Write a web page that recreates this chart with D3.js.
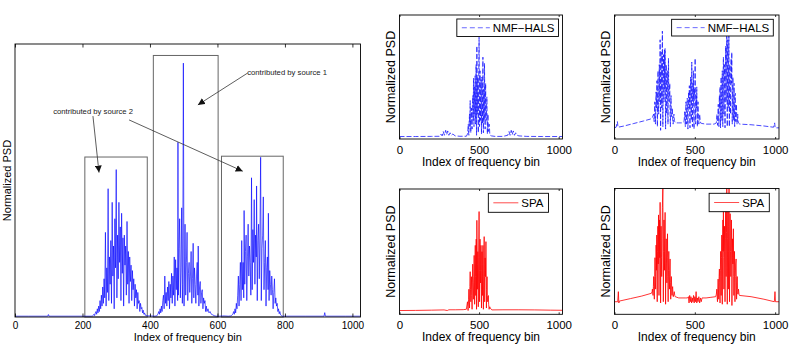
<!DOCTYPE html>
<html>
<head>
<meta charset="utf-8">
<script src="https://cdn.jsdelivr.net/npm/d3@7"></script>
<style>
body { margin: 0; background: #fff; }
text { font-family: "Liberation Sans", Arial, sans-serif; }
</style>
</head>
<body>
<svg id="fig" width="789" height="355"></svg>
<script>
// frequency bins run 0..1024, PSD normalised to the axes height
var binMax = 1024;
var xTicksMain = [0, 200, 400, 600, 800, 1000];
var xTicksSmall = [0, 500, 1000];

// mixture spectrum (left figure)
var mainPsd = [
	[0,0.003],[40,0.003],[97,0.003],[99,0.009],[101,0.003],[160,0.003],[200,0.003],[226,0.003],
	[230,0.004],[232,0.006],[234,0.01],[236,0.005],[238,0.015],[240,0.02],[242,0.01],[244,0.03],
	[246,0.015],[248,0.04],[250,0.02],[252,0.06],[254,0.03],[256,0.08],[258,0.04],[260,0.11],
	[262,0.05],[264,0.14],[266,0.07],[268,0.31],[270,0.04],[272,0.18],[274,0.09],[276,0.47],
	[278,0.06],[280,0.22],[282,0.12],[284,0.28],[286,0.05],[288,0.42],[290,0.15],[292,0.26],
	[294,0.03],[296,0.36],[298,0.18],[300,0.54],[302,0.07],[304,0.3],[306,0.14],[308,0.42],
	[310,0.2],[312,0.33],[314,0.06],[316,0.38],[318,0.16],[320,0.29],[322,0.04],[324,0.3],
	[326,0.19],[328,0.26],[330,0.08],[332,0.35],[334,0.12],[336,0.24],[338,0.05],[340,0.22],
	[342,0.13],[344,0.19],[346,0.06],[348,0.17],[350,0.1],[352,0.14],[354,0.04],[356,0.12],
	[358,0.07],[360,0.1],[362,0.03],[364,0.09],[366,0.05],[368,0.06],[370,0.02],[372,0.05],
	[374,0.03],[376,0.035],[378,0.015],[380,0.025],[382,0.01],[384,0.015],[386,0.006],[388,0.008],
	[390,0.004],[400,0.004],[412,0.003],
	[420,0.004],[422,0.008],[424,0.012],[426,0.02],[428,0.01],[430,0.03],[432,0.015],[434,0.04],
	[436,0.02],[438,0.06],[440,0.08],[442,0.03],[444,0.15],[446,0.05],[448,0.09],[450,0.04],
	[452,0.11],[454,0.06],[456,0.13],[458,0.03],[460,0.12],[462,0.07],[464,0.16],[466,0.05],
	[468,0.15],[470,0.08],[472,0.22],[474,0.04],[476,0.21],[478,0.1],[480,0.18],[482,0.06],
	[483,0.64],[484,0.08],[486,0.25],[488,0.36],[490,0.07],[492,0.18],[494,0.4],[496,0.05],
	[497,0.12],[499,0.93],[501,0.04],[503,0.22],[504,0.34],[506,0.08],[508,0.2],[510,0.31],
	[512,0.06],[514,0.16],[516,0.2],[518,0.09],[520,0.15],[522,0.24],[524,0.05],[526,0.14],
	[528,0.27],[530,0.07],[532,0.18],[534,0.12],[536,0.05],[538,0.15],[540,0.2],[542,0.08],
	[543,0.26],[545,0.04],[547,0.11],[549,0.13],[551,0.05],[553,0.09],[555,0.1],[557,0.03],
	[559,0.07],[561,0.05],[563,0.06],[565,0.02],[567,0.04],[569,0.02],[572,0.03],[575,0.015],
	[578,0.02],[582,0.01],[586,0.008],[590,0.005],[596,0.003],[606,0.003],[620,0.004],[632,0.003],
	[640,0.004],[642,0.006],[644,0.008],[646,0.012],[648,0.02],[650,0.01],[652,0.03],[654,0.015],
	[656,0.05],[658,0.03],[660,0.08],[662,0.15],[664,0.04],[666,0.12],[668,0.2],[670,0.06],
	[672,0.28],[674,0.1],[676,0.2],[678,0.07],[679,0.39],[681,0.12],[683,0.24],[685,0.3],
	[687,0.06],[689,0.22],[691,0.34],[693,0.15],[695,0.26],[697,0.2],[699,0.08],[701,0.51],
	[703,0.1],[705,0.32],[707,0.2],[709,0.43],[711,0.12],[713,0.3],[715,0.22],[716,0.48],
	[718,0.06],[720,0.28],[722,0.34],[724,0.14],[726,0.3],[728,0.585],[730,0.06],[732,0.25],
	[734,0.3],[736,0.44],[738,0.1],[740,0.2],[742,0.28],[744,0.04],[746,0.18],[748,0.22],
	[750,0.1],[751,0.38],[753,0.06],[755,0.17],[757,0.12],[759,0.08],[761,0.15],[763,0.1],
	[765,0.03],[767,0.09],[769,0.14],[771,0.05],[773,0.07],[775,0.04],[777,0.05],[779,0.02],
	[781,0.03],[783,0.012],[785,0.02],[787,0.008],[790,0.005],[792,0.003],
	[800,0.003],[860,0.003],[916,0.003],[918,0.016],[920,0.003],[980,0.003],[1024,0.003]
];

// NMF-HALS, source 1
var halsSource1 = [
	[0,0.02],[100,0.02],[200,0.021],[250,0.022],[260,0.04],[268,0.025],[275,0.06],[282,0.03],
	[290,0.07],[296,0.035],[303,0.065],[310,0.03],[318,0.05],[326,0.03],[335,0.04],[350,0.025],
	[380,0.022],[420,0.022],[427,0.04],[430,0.08],[432,0.12],[434,0.05],[436,0.03],[438,0.15],
	[440,0.2],[442,0.1],[444,0.31],[446,0.12],[448,0.05],[450,0.18],[452,0.25],[454,0.15],
	[456,0.08],[458,0.28],[461,0.35],[463,0.15],[465,0.49],[467,0.22],[468,0.1],[470,0.3],
	[472,0.42],[474,0.2],[475,0.51],[477,0.28],[478,0.12],[480,0.4],[481,0.6],[483,0.2],
	[484,0.03],[486,0.75],[488,0.35],[489,0.2],[491,0.5],[492,0.45],[494,0.25],[495,0.05],
	[497,0.4],[500,0.82],[502,0.3],[503,0.1],[505,0.45],[506,0.55],[508,0.3],[509,0.15],
	[511,0.38],[512,0.48],[514,0.2],[515,0.04],[517,0.35],[518,0.5],[520,0.25],[521,0.12],
	[523,0.4],[524,0.66],[526,0.2],[527,0.05],[529,0.3],[530,0.4],[532,0.15],[534,0.61],
	[536,0.25],[538,0.08],[540,0.3],[541,0.45],[543,0.2],[545,0.15],[547,0.25],[549,0.34],
	[551,0.12],[552,0.04],[554,0.15],[556,0.2],[558,0.06],[560,0.08],[563,0.12],[565,0.1],
	[567,0.04],[570,0.03],[578,0.025],[600,0.021],[650,0.021],[680,0.03],[688,0.06],
	[695,0.03],[702,0.07],[708,0.035],[715,0.065],[722,0.03],[730,0.05],[740,0.03],[750,0.025],
	[800,0.021],[900,0.02],[1024,0.02]
];

// NMF-HALS, source 2
var halsSource2 = [
	[0,0.09],[10,0.095],[18,0.14],[22,0.095],[60,0.105],[120,0.125],[180,0.145],[222,0.16],
	[235,0.17],[243,0.2],[247,0.14],[251,0.3],[253,0.2],[255,0.12],[257,0.3],[259,0.38],
	[262,0.25],[264,0.47],[267,0.1],[269,0.4],[271,0.55],[273,0.3],[275,0.2],[277,0.45],
	[279,0.6],[282,0.3],[284,0.8],[287,0.07],[289,0.5],[291,0.7],[293,0.4],[294,0.25],
	[296,0.55],[298,0.87],[301,0.1],[303,0.5],[305,0.68],[307,0.45],[308,0.3],[310,0.55],
	[311,0.72],[313,0.4],[315,0.73],[318,0.08],[320,0.45],[322,0.6],[324,0.35],[325,0.2],
	[327,0.4],[329,0.55],[331,0.3],[333,0.12],[335,0.45],[336,0.65],[338,0.35],[340,0.3],
	[342,0.38],[344,0.45],[346,0.2],[348,0.1],[350,0.28],[352,0.35],[354,0.2],[356,0.18],
	[358,0.22],[360,0.25],[362,0.16],[365,0.12],[368,0.18],[370,0.2],[373,0.15],[375,0.14],
	[380,0.13],[400,0.13],[420,0.13],[433,0.14],[435,0.18],[437,0.22],[439,0.15],[441,0.1],
	[443,0.22],[445,0.3],[447,0.2],[449,0.12],[451,0.25],[453,0.33],[455,0.18],[457,0.08],
	[460,0.3],[462,0.38],[464,0.25],[466,0.43],[468,0.2],[470,0.09],[472,0.35],[474,0.5],
	[476,0.3],[478,0.15],[480,0.45],[481,0.62],[483,0.3],[485,0.1],[487,0.35],[488,0.45],
	[490,0.3],[491,0.55],[493,0.25],[495,0.08],[497,0.3],[498,0.4],[500,0.35],[502,0.65],
	[504,0.25],[505,0.12],[507,0.3],[509,0.35],[511,0.25],[512,0.42],[514,0.2],[516,0.1],
	[518,0.25],[520,0.3],[523,0.18],[525,0.12],[528,0.17],[530,0.2],[535,0.13],[545,0.125],
	[570,0.12],[595,0.12],[620,0.12],[634,0.13],[636,0.16],[638,0.2],[640,0.14],[642,0.11],
	[644,0.22],[646,0.28],[648,0.18],[650,0.1],[652,0.3],[653,0.35],[655,0.25],[657,0.42],
	[659,0.2],[660,0.09],[662,0.4],[664,0.5],[666,0.3],[668,0.15],[670,0.42],[671,0.55],
	[673,0.3],[674,0.1],[676,0.5],[678,0.66],[680,0.4],[681,0.2],[683,0.45],[685,0.6],
	[687,0.3],[688,0.09],[690,0.55],[692,0.75],[694,0.45],[695,0.3],[697,0.6],[699,0.93],
	[701,0.4],[702,0.1],[704,0.6],[705,0.8],[707,0.45],[708,0.25],[710,0.6],[712,0.85],
	[714,0.3],[715,0.1],[717,0.45],[718,0.6],[720,0.35],[722,0.2],[724,0.5],[726,0.65],
	[728,0.45],[730,0.7],[733,0.12],[735,0.4],[737,0.5],[739,0.3],[741,0.15],[743,0.35],
	[744,0.45],[746,0.25],[748,0.1],[750,0.3],[751,0.37],[753,0.2],[755,0.14],[757,0.22],
	[759,0.28],[761,0.18],[763,0.12],[765,0.17],[767,0.2],[769,0.15],[771,0.13],[780,0.12],
	[850,0.115],[930,0.105],[990,0.095],[997,0.13],[1000,0.09],[1024,0.09]
];

// SPA, source 1
var spaSource1 = [
	[0,0.03],[100,0.031],[200,0.033],[280,0.035],[300,0.03],[310,0.036],[350,0.036],[400,0.037],
	[420,0.04],[427,0.1],[429,0.06],[431,0.03],[434,0.12],[436,0.2],[438,0.1],[440,0.05],
	[442,0.22],[444,0.34],[446,0.2],[448,0.1],[450,0.2],[452,0.3],[454,0.15],[456,0.04],
	[458,0.25],[460,0.4],[462,0.25],[464,0.12],[467,0.3],[469,0.47],[471,0.25],[472,0.08],
	[474,0.4],[476,0.55],[478,0.3],[479,0.15],[481,0.45],[482,0.6],[483,0.3],[484,0.04],
	[486,0.75],[488,0.4],[489,0.2],[491,0.4],[492,0.5],[494,0.25],[495,0.06],[497,0.45],
	[500,0.82],[502,0.35],[503,0.1],[505,0.45],[506,0.6],[508,0.35],[509,0.25],[511,0.4],
	[512,0.55],[514,0.2],[515,0.05],[517,0.35],[518,0.5],[520,0.3],[521,0.15],[523,0.4],
	[524,0.55],[526,0.2],[527,0.04],[530,0.45],[532,0.62],[534,0.3],[535,0.1],[537,0.35],
	[538,0.45],[541,0.3],[543,0.58],[545,0.2],[546,0.05],[548,0.2],[550,0.3],[552,0.15],
	[554,0.1],[556,0.12],[558,0.15],[560,0.08],[563,0.04],[567,0.06],[570,0.05],[580,0.035],
	[650,0.036],[750,0.036],[850,0.035],[950,0.033],[1024,0.032]
];

// SPA, source 2
var spaSource2 = [
	[0,0.1],[20,0.1],[24,0.18],[27,0.09],[30,0.105],[100,0.125],[170,0.145],[230,0.167],
	[234,0.18],[236,0.2],[238,0.17],[240,0.15],[242,0.22],[244,0.3],[246,0.2],[248,0.12],
	[250,0.3],[252,0.45],[254,0.3],[256,0.2],[258,0.4],[259,0.55],[261,0.35],[263,0.63],
	[266,0.1],[268,0.5],[270,0.7],[272,0.4],[274,0.79],[277,0.15],[279,0.5],[280,0.75],
	[282,0.45],[284,0.89],[287,0.09],[289,0.5],[290,0.7],[292,0.45],[294,0.3],[296,0.6],
	[298,0.85],[301,1.0],[304,0.1],[306,0.5],[308,0.75],[310,0.5],[311,0.35],[313,0.6],
	[315,0.81],[318,0.08],[320,0.4],[322,0.6],[324,0.4],[326,0.25],[328,0.45],[330,0.64],
	[332,0.3],[334,0.1],[336,0.35],[338,0.5],[340,0.3],[342,0.2],[344,0.35],[346,0.44],
	[348,0.25],[350,0.12],[352,0.25],[354,0.3],[356,0.2],[358,0.15],[360,0.2],[362,0.22],
	[364,0.16],[366,0.14],[369,0.16],[372,0.18],[375,0.15],[378,0.14],[400,0.13],[440,0.13],
	[455,0.13],[460,0.14],[464,0.09],[468,0.15],[472,0.1],[476,0.14],[480,0.09],[484,0.13],
	[488,0.1],[492,0.15],[496,0.09],[500,0.14],[504,0.1],[508,0.18],[512,0.09],[516,0.13],
	[520,0.1],[525,0.14],[530,0.09],[535,0.13],[540,0.1],[545,0.13],[570,0.13],[600,0.135],
	[630,0.14],[634,0.16],[637,0.2],[639,0.14],[641,0.1],[643,0.2],[645,0.28],[647,0.2],
	[649,0.12],[651,0.3],[653,0.36],[655,0.25],[657,0.09],[659,0.35],[661,0.5],[663,0.3],
	[664,0.15],[666,0.45],[668,0.63],[670,0.35],[671,0.08],[673,0.5],[675,0.75],[676,0.5],
	[678,0.83],[680,0.45],[681,0.2],[683,0.5],[685,0.7],[687,0.4],[688,0.1],[690,0.6],
	[692,0.85],[694,0.5],[695,0.3],[697,0.65],[699,1.0],[701,0.45],[702,0.08],[704,0.6],
	[706,0.9],[708,0.5],[709,0.2],[711,0.7],[713,1.0],[715,0.4],[716,0.1],[718,0.55],
	[720,0.8],[722,0.5],[724,0.3],[726,0.5],[728,0.75],[730,0.4],[731,0.07],[733,0.45],
	[735,0.6],[737,0.4],[740,0.68],[742,0.3],[743,0.15],[745,0.35],[747,0.5],[749,0.25],
	[750,0.1],[752,0.3],[754,0.4],[757,0.44],[759,0.2],[760,0.12],[762,0.25],[764,0.3],
	[766,0.2],[768,0.16],[770,0.18],[772,0.2],[775,0.16],[778,0.15],[850,0.14],[930,0.12],
	[995,0.1],[999,0.18],[1002,0.1],[1024,0.1]
];

// highlighted bands on the mixture: [from bin, to bin, top]
var sourceBoxes = [[207, 392, 0.586], [410, 602, 0.958], [612, 795, 0.589]];
var noteLabels = ["contributed by source 1", "contributed by source 2"];
var notePoints = [[688, 0.886], [113, 0.745]];
// arrows: [from bin, from psd, to bin, to psd]
var noteArrows = [[690, 0.894, 542, 0.777], [231, 0.736, 249, 0.529], [338, 0.722, 675, 0.534]];

var svg = d3.select("#fig");

var defs = svg.append("defs");
defs.append("marker")
	.attr("id", "arrowhead")
	.attr("viewBox", "0 0 10 10")
	.attr("refX", 10).attr("refY", 5)
	.attr("markerWidth", 7).attr("markerHeight", 7)
	.attr("markerUnits", "userSpaceOnUse")
	.attr("orient", "auto")
	.append("path")
	.attr("d", "M0,0L10,5L0,10z")
	.attr("fill", "#111");

function drawPanel(p) {
	var x = d3.scaleLinear().domain([0, binMax]).range([p.left, p.right]);
	var y = d3.scaleLinear().domain([0, 1]).range([p.bottom, p.top]);
	var g = svg.append("g").attr("class", "panel " + p.id);

	defs.append("clipPath").attr("id", "clip-" + p.id)
		.append("rect")
		.attr("x", p.left).attr("y", p.top)
		.attr("width", p.right - p.left).attr("height", p.bottom - p.top);

	if (p.boxes) {
		g.selectAll("rect.band").data(p.boxes).enter().append("rect")
			.attr("class", "band")
			.attr("x", function(d) { return x(d[0]); })
			.attr("y", function(d) { return y(d[2]); })
			.attr("width", function(d) { return x(d[1]) - x(d[0]); })
			.attr("height", function(d) { return y(0) - y(d[2]); })
			.attr("fill", "none")
			.attr("stroke", "#666")
			.attr("stroke-width", 1);
	}

	var line = d3.line()
		.x(function(d) { return x(d[0]); })
		.y(function(d) { return y(d[1]); });

	g.append("path")
		.datum(p.data)
		.attr("clip-path", "url(#clip-" + p.id + ")")
		.attr("fill", "none")
		.attr("stroke", p.color)
		.attr("stroke-width", p.lineWidth)
		.attr("stroke-dasharray", p.dash)
		.attr("d", line);

	// inward ticks, bottom with labels and top without (MATLAB box)
	var bottomAxis = d3.axisBottom(x)
		.tickValues(p.ticks)
		.tickSizeInner(-p.tickLen)
		.tickSizeOuter(0)
		.tickPadding(p.tickPad)
		.tickFormat(d3.format("d"));
	var bx = g.append("g").attr("transform", "translate(0," + p.bottom + ")").call(bottomAxis);
	bx.select(".domain").remove();
	bx.attr("font-size", p.tickFont).attr("font-family", null);
	bx.selectAll("line").attr("stroke", "#000").attr("stroke-width", 0.8);
	bx.selectAll("text").attr("fill", "#000");

	var topAxis = d3.axisTop(x)
		.tickValues(p.ticks)
		.tickSizeInner(-p.tickLen)
		.tickSizeOuter(0)
		.tickFormat("");
	var tx = g.append("g").attr("transform", "translate(0," + p.top + ")").call(topAxis);
	tx.select(".domain").remove();
	tx.selectAll("line").attr("stroke", "#000").attr("stroke-width", 0.8);

	g.append("rect")
		.attr("x", p.left).attr("y", p.top)
		.attr("width", p.right - p.left).attr("height", p.bottom - p.top)
		.attr("fill", "none")
		.attr("stroke", "#000")
		.attr("stroke-width", 0.9);

	g.append("text")
		.attr("x", (p.left + p.right) / 2)
		.attr("y", p.bottom + p.xLabelOffset)
		.attr("text-anchor", "middle")
		.attr("font-size", p.xLabelFont)
		.text("Index of frequency bin");

	g.append("text")
		.attr("transform", "translate(" + (p.left - 4.5) + "," + ((p.top + p.bottom) / 2) + ") rotate(-90)")
		.attr("text-anchor", "middle")
		.attr("font-size", p.yLabelFont)
		.text("Normalized PSD");

	if (p.legend) {
		var lg = g.append("g");
		var frame = lg.append("rect");
		var label = lg.append("text")
			.attr("font-size", p.legendFont)
			.text(p.legend);
		var tw = label.node().getComputedTextLength();
		var boxRight = p.right - p.legendInset[0];
		var boxTop = p.top + p.legendInset[1];
		var boxH = p.legendH;
		var textX = boxRight - p.legendPad - tw;
		var midY = boxTop + boxH / 2;
		var sample = p.legendSample;
		label.attr("x", textX).attr("y", midY + p.legendFont * 0.36);
		lg.append("line")
			.attr("x1", textX - 3 - sample).attr("x2", textX - 3)
			.attr("y1", midY).attr("y2", midY)
			.attr("stroke", p.legendColor)
			.attr("stroke-width", 1)
			.attr("stroke-dasharray", p.legendDash);
		frame
			.attr("x", textX - 8 - sample).attr("y", boxTop)
			.attr("width", boxRight - (textX - 8 - sample)).attr("height", boxH)
			.attr("fill", "#fff")
			.attr("stroke", "#000")
			.attr("stroke-width", 0.9);
	}

	return { x: x, y: y, g: g };
}

var main = drawPanel({
	id: "main", left: 15, top: 44, right: 360.5, bottom: 317,
	data: mainPsd, color: "#0000ff", dash: null, ticks: xTicksMain, lineWidth: 0.65,
	tickLen: 3.5, tickPad: 4.8, tickFont: 10, xLabelFont: 11, yLabelFont: 11, xLabelOffset: 24,
	boxes: sourceBoxes
});

var small = { tickPad: 6.5, tickFont: 11.5, xLabelFont: 12, yLabelFont: 12.5, xLabelOffset: 27,
	legendFont: 11.5, tickLen: 2, lineWidth: 0.8 };

drawPanel(Object.assign({}, small, {
	id: "hals1", left: 399.5, top: 15, right: 562.5, bottom: 139,
	data: halsSource1, color: "#1a1aff", dash: "5,2", ticks: xTicksSmall,
	legend: "NMF\u2212HALS", legendColor: "#6a6aff", legendDash: "5,3",
	legendInset: [4, 4], legendH: 17.5, legendPad: 4, legendSample: 28
}));
drawPanel(Object.assign({}, small, {
	id: "hals2", left: 614.5, top: 15, right: 779, bottom: 139,
	data: halsSource2, color: "#1a1aff", dash: "5,2", ticks: xTicksSmall,
	legend: "NMF\u2212HALS", legendColor: "#6a6aff", legendDash: "5,3",
	legendInset: [5.7, 4.3], legendH: 16.7, legendPad: 4, legendSample: 28
}));
drawPanel(Object.assign({}, small, {
	id: "spa1", left: 399.5, top: 189, right: 562.5, bottom: 314.3,
	data: spaSource1, color: "#ff0000", dash: null, ticks: xTicksSmall,
	legend: "SPA", legendColor: "#ff4d4d", legendDash: null,
	legendInset: [14, 4.3], legendH: 19, legendPad: 5, legendSample: 25
}));
drawPanel(Object.assign({}, small, {
	id: "spa2", left: 614.5, top: 188.5, right: 779, bottom: 314.3,
	data: spaSource2, color: "#ff0000", dash: null, ticks: xTicksSmall,
	legend: "SPA", legendColor: "#ff4d4d", legendDash: null,
	legendInset: [9.7, 4.8], legendH: 18.4, legendPad: 5, legendSample: 25
}));

// annotations on the mixture spectrum
main.g.selectAll("text.note").data(noteLabels).enter().append("text")
	.attr("class", "note")
	.attr("x", function(d, i) { return main.x(notePoints[i][0]); })
	.attr("y", function(d, i) { return main.y(notePoints[i][1]); })
	.attr("font-size", 7.7)
	.attr("fill", "#222")
	.text(function(d) { return d; });

main.g.selectAll("line.arrow").data(noteArrows).enter().append("line")
	.attr("class", "arrow")
	.attr("x1", function(d) { return main.x(d[0]); })
	.attr("y1", function(d) { return main.y(d[1]); })
	.attr("x2", function(d) { return main.x(d[2]); })
	.attr("y2", function(d) { return main.y(d[3]); })
	.attr("stroke", "#333")
	.attr("stroke-width", 0.8)
	.attr("marker-end", "url(#arrowhead)");
</script>
</body>
</html>
